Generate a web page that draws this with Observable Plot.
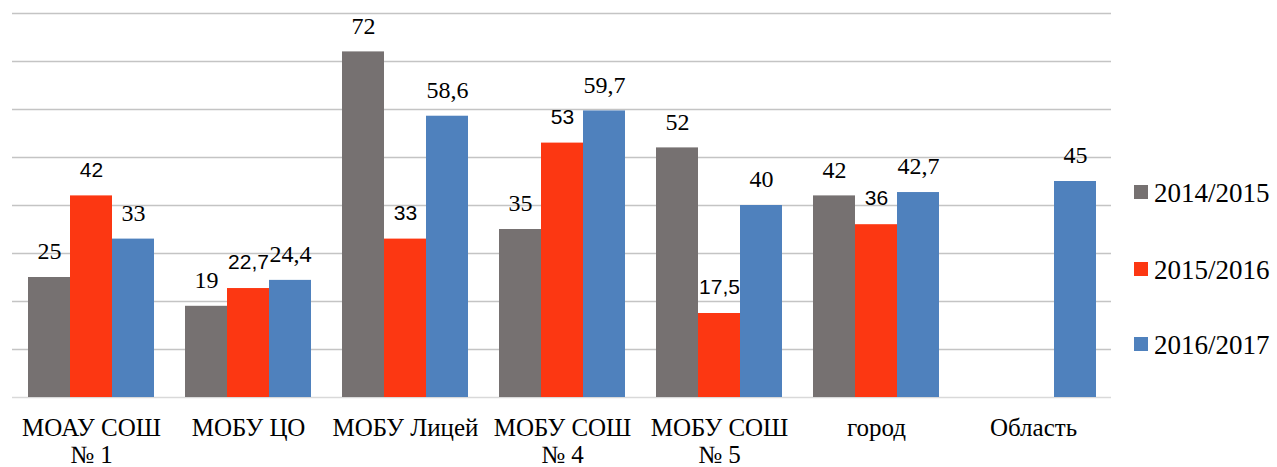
<!DOCTYPE html>
<html><head><meta charset="utf-8">
<script src="https://cdn.jsdelivr.net/npm/d3@7"></script>
<script src="https://cdn.jsdelivr.net/npm/@observablehq/plot@0.6"></script>
<style>
body{margin:0;background:#fff;}
#wrap{position:relative;width:1277px;height:467px;overflow:hidden;}
#wrap svg{position:absolute;left:0;top:0;}
.lg{position:absolute;left:1134px;font-family:"Liberation Serif","Times New Roman",serif;font-size:27px;color:#000;white-space:nowrap;line-height:1;}
.lg span.sw{position:absolute;left:0;width:14px;height:14px;}
.lg span.tx{position:absolute;left:20px;}
text.serifLbl{font-family:"Liberation Serif","Times New Roman",serif !important;}
text.sansLbl{font-family:"Liberation Sans",Arial,sans-serif !important;}
</style></head><body><div id="wrap"></div>
<script>
const categories = ["МОАУ СОШ\n№ 1", "МОБУ ЦО", "МОБУ Лицей", "МОБУ СОШ\n№ 4", "МОБУ СОШ\n№ 5", "город", "Область"];
const series = ["2014/2015", "2015/2016", "2016/2017"];
const v2014 = [25, 19, 72, 35, 52, 42, null];
const v2015 = [42, 22.7, 33, 53, 17.5, 36, null];
const v2016 = [33, 24.4, 58.6, 59.7, 40, 42.7, 45];
const gridTicks = [10, 20, 30, 40, 50, 60, 70, 80];
const colors = ["#767171", "#FC3712", "#4F81BD"];

const rows = [];
[v2014, v2015, v2016].forEach((vals, si) => {
  vals.forEach((v, ci) => {
    if (v != null) rows.push({cat: categories[ci], series: series[si], value: v});
  });
});
const fmt = v => String(v).replace(".", ",");

const W = 1277, H = 467;
const M = {marginLeft: 12, marginRight: 166, marginTop: 13, marginBottom: 70};
const serif = "Liberation Serif";

const grid = Plot.plot({
  width: W, height: H, ...M,
  style: {background: "white"},
  x: {axis: null},
  y: {domain: [0, 80], axis: null},
  marks: [
    Plot.ruleY(gridTicks, {stroke: "#c4c4c4", strokeWidth: 1.6}),
    Plot.ruleY([0], {stroke: "#d9d9d9", strokeWidth: 1.6})
  ]
});

const bars = Plot.plot({
  width: W, height: H, ...M,
  style: {background: "transparent", fontFamily: serif},
  fx: {domain: categories, paddingInner: 0.2, paddingOuter: 0.1, axis: null, label: null},
  x: {domain: series, padding: 0, axis: null},
  y: {domain: [0, 80], axis: null},
  color: {domain: series, range: colors},
  marks: [
    Plot.barY(rows, {fx: "cat", x: "series", y: "value", fill: "series", inset: 0}),
    Plot.text(rows.filter(d => d.series !== series[1]), {
      fx: "cat", x: "series", y: "value", text: d => fmt(d.value),
      dy: -26, fontSize: 24, fill: "black", className: "serifLbl"
    }),
    Plot.text(rows.filter(d => d.series === series[1]), {
      fx: "cat", x: "series", y: "value", text: d => fmt(d.value),
      dy: -26, fontSize: 21, fill: "black", className: "sansLbl"
    }),
    Plot.text(categories, {
      fx: d => d, text: d => d, frameAnchor: "bottom", lineAnchor: "top",
      dy: 19, fontSize: 25, lineHeight: 1.09, fill: "black", className: "serifLbl"
    })
  ]
});

const wrap = document.getElementById("wrap");
wrap.appendChild(grid);
wrap.appendChild(bars);
d3.select(bars).selectAll("g.serifLbl text, text.serifLbl").style("font-family", '"Liberation Serif", serif');
d3.select(bars).selectAll("g.sansLbl text, text.sansLbl").style("font-family", '"Liberation Sans", sans-serif');

const legendTops = [185, 262, 337];
series.forEach((s, i) => {
  const d = document.createElement("div");
  d.className = "lg";
  d.style.top = legendTops[i] + "px";
  d.innerHTML = `<span class="sw" style="background:${colors[i]}"></span><span class="tx" style="top:-5px">${s}</span>`;
  wrap.appendChild(d);
});
</script>
</body></html>
